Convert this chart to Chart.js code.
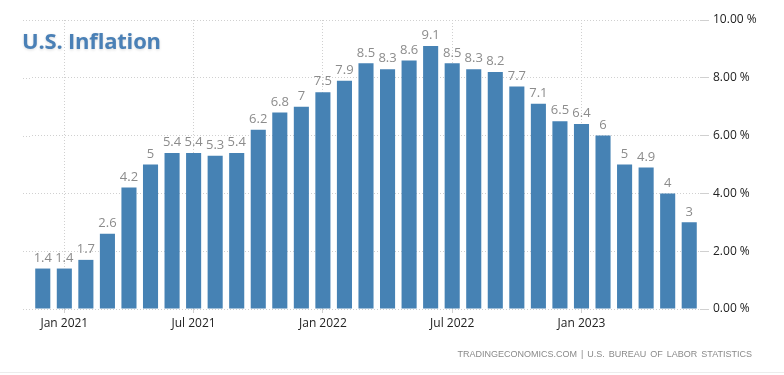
<!DOCTYPE html>
<html>
<head>
<meta charset="utf-8">
<script src="https://cdn.jsdelivr.net/npm/chart.js@4.4.0/dist/chart.umd.min.js"></script>
<style>
  html, body { margin: 0; padding: 0; background: #fff; }
  #wrap { position: relative; width: 784px; height: 375px; overflow: hidden; }
  #title {
    position: absolute; left: 22px; top: 25px;
    font: bold 22px "Open Sans", Roboto, sans-serif; letter-spacing: -0.2px;
    color: #4a80b6; text-shadow: 0 1px 3px rgba(0,0,0,0.15);
  }
  #source {
    position: absolute; right: 32px; top: 349px;
    font: 9px "Liberation Sans", Arial, sans-serif;
    color: #8a8a8a; letter-spacing: 0px; word-spacing: 1.5px;
  }
  #rule { position: absolute; left: 0; right: 0; top: 372px; border-top: 1px solid #ececec; }
</style>
</head>
<body>
<div id="wrap">
  <canvas id="myChart" width="784" height="375"></canvas>
  <div id="title">U.S. Inflation</div>
  <div id="source">TRADINGECONOMICS.COM | U.S. BUREAU OF LABOR STATISTICS</div>
  <div id="rule"></div>
</div>
<script>
var months = ["Dec 2020", "Jan 2021", "Feb 2021", "Mar 2021", "Apr 2021", "May 2021", "Jun 2021",
  "Jul 2021", "Aug 2021", "Sep 2021", "Oct 2021", "Nov 2021", "Dec 2021",
  "Jan 2022", "Feb 2022", "Mar 2022", "Apr 2022", "May 2022", "Jun 2022",
  "Jul 2022", "Aug 2022", "Sep 2022", "Oct 2022", "Nov 2022", "Dec 2022",
  "Jan 2023", "Feb 2023", "Mar 2023", "Apr 2023", "May 2023", "Jun 2023"];
var inflation = [1.4, 1.4, 1.7, 2.6, 4.2, 5, 5.4, 5.4, 5.3, 5.4, 6.2, 6.8, 7,
  7.5, 7.9, 8.5, 8.3, 8.6, 9.1, 8.5, 8.3, 8.2, 7.7, 7.1, 6.5, 6.4, 6, 5, 4.9, 4, 3];
var shownTicks = ["Jan 2021", "Jul 2021", "Jan 2022", "Jul 2022", "Jan 2023"];
var yTicks = [0, 2, 4, 6, 8, 10];

// the horizontal grid runs a little past the left edge of the plot
var gridLead = {
  id: "gridLead",
  beforeDatasetsDraw: function (chart) {
    var ctx = chart.ctx, y = chart.scales.y, left = chart.chartArea.left;
    ctx.save();
    ctx.strokeStyle = "#d0d0d0";
    ctx.lineWidth = 1;
    ctx.setLineDash([1, 2]);
    yTicks.forEach(function (v) {
      var py = Math.round(y.getPixelForValue(v)) + 0.5;
      ctx.beginPath();
      ctx.moveTo(23, py);
      ctx.lineTo(left, py);
      ctx.stroke();
    });
    ctx.restore();
  }
};

// numbers above each bar
var barLabels = {
  id: "barLabels",
  afterDatasetsDraw: function (chart) {
    var ctx = chart.ctx;
    var meta = chart.getDatasetMeta(0);
    ctx.save();
    ctx.font = "13px 'Open Sans', sans-serif";
    ctx.fillStyle = "#8c8c8c";
    ctx.textAlign = "center";
    ctx.textBaseline = "bottom";
    meta.data.forEach(function (bar, i) {
      ctx.fillText(String(inflation[i]), bar.x, bar.y - 4);
    });
    ctx.restore();
  }
};

new Chart("myChart", {
  type: "bar",
  data: {
    labels: months,
    datasets: [{
      data: inflation,
      backgroundColor: "#4682b4",
      barPercentage: 0.7,
      categoryPercentage: 1.0
    }]
  },
  options: {
    responsive: false,
    animation: false,
    layout: { padding: { left: 32, top: 20, right: 0, bottom: 0 } },
    plugins: { legend: { display: false }, tooltip: { enabled: false } },
    scales: {
      x: {
        grid: {
          offset: false,
          drawOnChartArea: true,
          tickLength: 4,
          color: function (c) {
            return c.tick && shownTicks.indexOf(months[c.tick.value]) >= 0 ? "#d0d0d0" : "rgba(0,0,0,0)";
          }
        },
        border: { display: false, dash: [1, 2] },
        ticks: {
          autoSkip: false,
          maxRotation: 0,
          padding: 3,
          color: "#222",
          font: { family: "'Open Sans', sans-serif", size: 12 },
          callback: function (v) {
            return shownTicks.indexOf(months[v]) >= 0 ? months[v] : "";
          }
        },
        afterFit: function (s) { s.height = 66; }
      },
      y: {
        position: "right",
        min: 0,
        max: 10,
        afterBuildTicks: function (s) { s.ticks = yTicks.map(function (v) { return { value: v }; }); },
        grid: { color: "#d0d0d0", tickLength: 9 },
        border: { display: false, dash: [1, 2] },
        ticks: {
          padding: 4,
          color: "#222",
          font: { family: "'Open Sans', sans-serif", size: 12 },
          callback: function (v) { return v.toFixed(2) + " %"; }
        },
        afterFit: function (s) { s.width = 84; }
      }
    }
  },
  plugins: [gridLead, barLabels]
});
</script>
</body>
</html>
